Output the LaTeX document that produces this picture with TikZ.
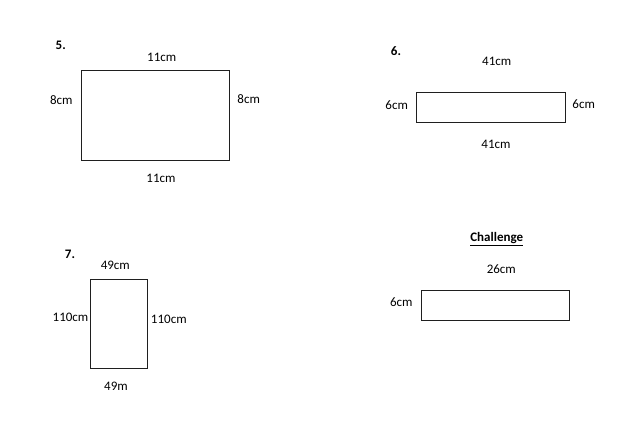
\documentclass[tikz,border=0pt]{standalone}
\usepackage{fontspec}
\setmainfont{Carlito}
\begin{document}
\begin{tikzpicture}[x=1pt,y=-1pt,
  lbl/.style={inner sep=0pt,font=\fontsize{13}{15}\selectfont},
  num/.style={inner sep=0pt,font=\fontsize{13}{15}\selectfont\bfseries},
  rectbox/.style={draw=black!88,line width=1pt}]
\useasboundingbox[fill=white] (0,0) rectangle (631,447);
% 5
\node[num] (n5) at (60.7,45) {5.};
\draw[rectbox] (81.3,70.3) rectangle (229.7,160);
\node[lbl] (t5) at (161.7,57) {11cm};
\node[lbl] (b5) at (161,178.5) {11cm};
\node[lbl] (l5) at (61.3,100) {8cm};
\node[lbl] (r5) at (248.7,99) {8cm};
% 6
\node[num] (n6) at (396,51) {6.};
\draw[rectbox] (416,92.3) rectangle (565,122.7);
\node[lbl] (t6) at (496.7,61) {41cm};
\node[lbl] (b6) at (496,144.5) {41cm};
\node[lbl] (l6) at (396.7,105) {6cm};
\node[lbl] (r6) at (583.7,104) {6cm};
% 7
\node[num] (n7) at (70,254) {7.};
\draw[rectbox] (90.3,279.3) rectangle (147.3,368.7);
\node[lbl] (t7) at (115.3,265) {49cm};
\node[lbl] (b7) at (116,386) {49m};
\node[lbl] (l7) at (70.5,317) {110cm};
\node[lbl] (r7) at (168.8,319) {110cm};
% Challenge
\node[num] (nc) at (496.7,239) {\underline{Challenge}};
\draw[rectbox] (421,290.7) rectangle (569.3,320.3);
\node[lbl] (tc) at (501.3,269) {26cm};
\node[lbl] (lc) at (401.3,302.5) {6cm};
\end{tikzpicture}
\end{document}
